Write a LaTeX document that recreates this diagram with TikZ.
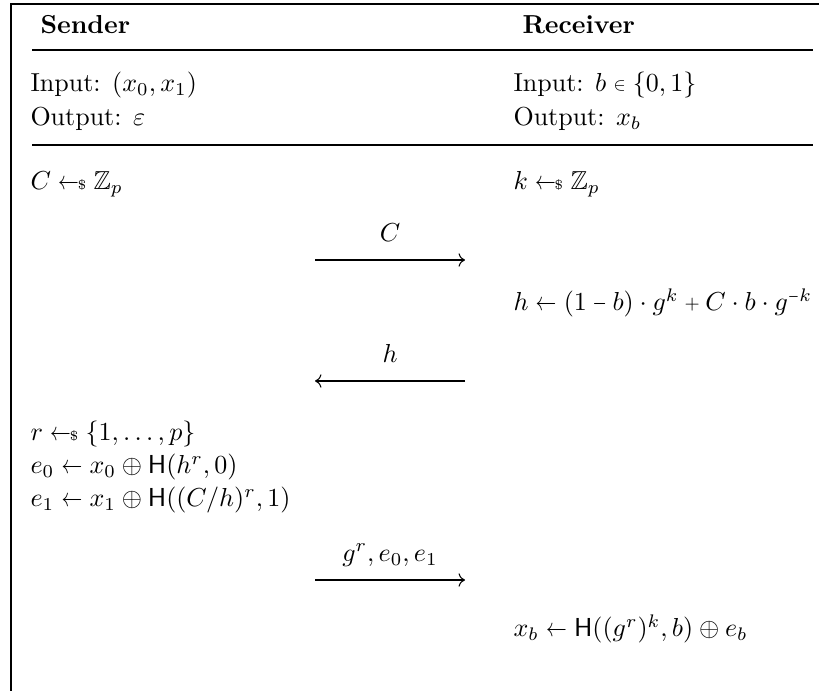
\documentclass[tikz,border=0pt]{standalone}
\usepackage{amsmath,amssymb,graphicx}
\usetikzlibrary{arrows.meta}
% short arrow and small operators, as set in the protocol
\newcommand{\gt}{\mathrel{\scalebox{0.8}[1]{$\leftarrow$}}}
\newcommand{\sampled}{\mathrel{\gt\!\!{\scriptscriptstyle\$}}}
\newcommand{\smallin}{\mathrel{\vcenter{\hbox{\scalebox{0.7}{$\in$}}}}}
\newcommand{\mn}{\mathbin{\vcenter{\hbox{\scalebox{0.7}[1]{$-$}}}}}
\newcommand{\supmn}{\scalebox{0.7}[1]{$\scriptstyle-$}}
\newcommand{\pl}{\mathbin{\vcenter{\hbox{\scalebox{0.75}{$+$}}}}}

\begin{document}
\begin{tikzpicture}[x=0.3846pt,y=-0.3846pt,
    txt/.style={anchor=base west, inner sep=0pt},
    msg/.style={-{To}},
    lbl/.style={above=3.7pt, text depth=0pt}]
      \useasboundingbox (0,0) rectangle (819,691);
      % Frame (top and left only)
      \draw (819,4) -- (11,4) -- (11,691);
      % Parties
      \node[txt] (snd) at (40,34) {\textbf{Sender}};
      \node[txt] (rcv) at (522,34) {\textbf{Receiver}};
      \draw (32,50) -- (813,50);
      % Inputs and outputs
      \node[txt] (inS) at (30,92) {Input: $(x_0,x_1)$};
      \node[txt] (outS) at (30,126) {Output: $\varepsilon$};
      \node[txt] (inR) at (513,92) {Input: $b\smallin\{0,1\}$};
      \node[txt] (outR) at (513,126) {Output: $x_b$};
      \draw (32,145) -- (813,145);
      % Round 1: sampling
      \node[txt] (sampC) at (30,190) {$C \sampled \mathbb{Z}_p$};
      \node[txt] (sampK) at (513,190) {$k \sampled \mathbb{Z}_p$};
      \coordinate (m1s) at (315,260);
      \coordinate (m1r) at (465,260);
      \draw[msg] (m1s) -- (m1r) node[midway, lbl] (m1) {$C$};
      % Receiver answers with h
      \node[txt] (hcomp) at (513,311) {$h \gt (1\mn b)\cdot g^k \pl C\cdot b\cdot g^{\supmn k}$};
      \coordinate (m2s) at (315,381);
      \coordinate (m2r) at (465,381);
      \draw[msg] (m2r) -- (m2s) node[midway, lbl] (m2) {$h$};
      % Sender encrypts both messages
      \node[txt] (sampR) at (30,441) {$r \sampled \{1,\ldots,p\}$};
      \node[txt] (enc0) at (30,474) {$e_0 \gt x_0 \oplus \mathsf{H}(h^r,0)$};
      \node[txt] (enc1) at (30,507) {$e_1 \gt x_1 \oplus \mathsf{H}((C/h)^r,1)$};
      \coordinate (m3s) at (315,580);
      \coordinate (m3r) at (465,580);
      \draw[msg] (m3s) -- (m3r) node[midway, lbl] (m3) {$g^r,e_0,e_1$};
      % Receiver decrypts
      \node[txt] (dec) at (513,637) {$x_b \gt \mathsf{H}((g^r)^k,b) \oplus e_b$};
    \end{tikzpicture}
\end{document}
